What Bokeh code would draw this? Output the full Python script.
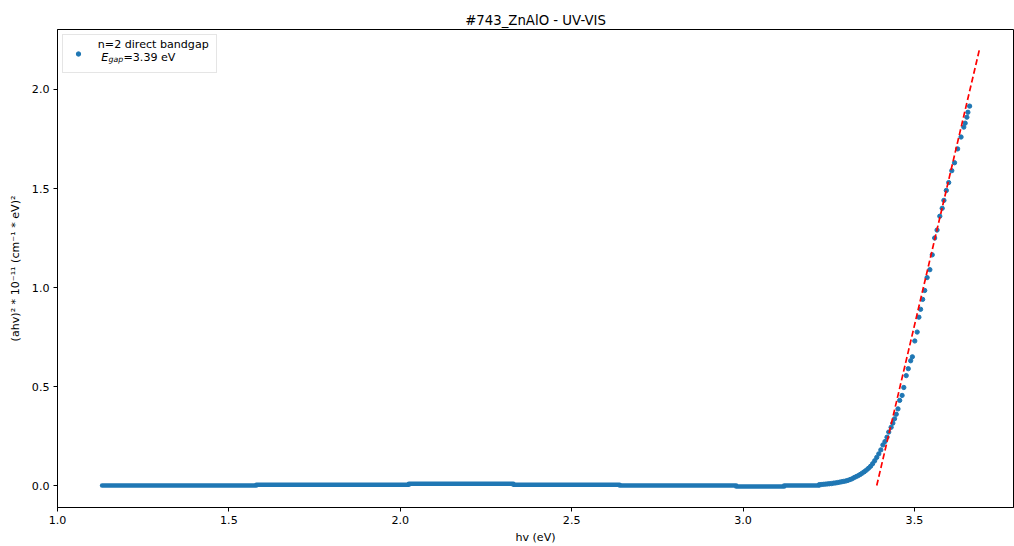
from bokeh.plotting import figure
from bokeh.models import FixedTicker, NumeralTickFormatter, Label, Legend, LegendItem
from bokeh.embed import file_html
from bokeh.resources import INLINE

# Flat part of the spectrum below the absorption edge: (start hv, end hv, level)
plateau_start = [1.130, 1.580, 2.025, 2.330, 2.640, 2.980, 3.120]
plateau_end = [1.580, 2.025, 2.330, 2.640, 2.980, 3.120, 3.222]
plateau_level = [0.000, 0.004, 0.009, 0.004, 0.000, -0.005, 0.000]

# Absorption edge, photon energy (eV) and (ahv)^2 in 1e-11 units
edge_hv = [3.222, 3.228, 3.234, 3.240, 3.246, 3.252, 3.258, 3.264, 3.270, 3.276,
           3.282, 3.288, 3.294, 3.300, 3.306, 3.312, 3.318, 3.324, 3.330, 3.336,
           3.342, 3.348, 3.354, 3.360, 3.366, 3.372, 3.378, 3.384, 3.390, 3.396,
           3.402, 3.408, 3.414, 3.420, 3.425, 3.432, 3.437, 3.442, 3.447, 3.452,
           3.457, 3.464, 3.469, 3.476, 3.482, 3.489, 3.494, 3.501, 3.508, 3.513,
           3.518, 3.524, 3.530, 3.537, 3.545, 3.552, 3.559, 3.566, 3.574, 3.581,
           3.586, 3.593, 3.600, 3.609, 3.617, 3.626, 3.636, 3.644, 3.648, 3.653,
           3.656, 3.661]
edge_val = [0.004, 0.005, 0.006, 0.007, 0.008, 0.009, 0.010, 0.012, 0.013, 0.015,
            0.017, 0.019, 0.021, 0.023, 0.026, 0.030, 0.034, 0.040, 0.045, 0.050,
            0.056, 0.063, 0.070, 0.078, 0.087, 0.097, 0.110, 0.125, 0.142, 0.160,
            0.180, 0.205, 0.222, 0.244, 0.270, 0.294, 0.315, 0.337, 0.360, 0.387,
            0.430, 0.455, 0.495, 0.555, 0.590, 0.630, 0.650, 0.730, 0.775, 0.850,
            0.890, 0.940, 0.985, 1.050, 1.090, 1.165, 1.250, 1.290, 1.360, 1.400,
            1.440, 1.490, 1.530, 1.590, 1.630, 1.700, 1.760, 1.810, 1.830, 1.860,
            1.885, 1.916]

# Linear fit of the edge (Tauc extrapolation)
e_gap = 3.39
fit_slope = 7.35
fit_end = 3.69
fit_x = [e_gap, fit_end]
fit_y = [0.0, fit_slope * (fit_end - e_gap)]

x_ticks = [1.0, 1.5, 2.0, 2.5, 3.0, 3.5]
y_ticks = [0.0, 0.5, 1.0, 1.5, 2.0]

FONT = "DejaVu Sans"
BLUE = "#1f77b4"

p = figure(width=1014, height=546, x_range=(1.0, 3.789), y_range=(-0.111, 2.303),
           output_backend="svg", toolbar_location=None,
           min_border_left=57, min_border_right=1, min_border_top=29, min_border_bottom=39)

p.title.text = "#743_ZnAlO - UV-VIS"
p.title.align = "center"
p.title.text_font = FONT
p.title.text_font_size = "13.3px"
p.title.text_font_style = "normal"
p.title.text_color = "black"
p.title.standoff = 4

p.grid.visible = False
p.outline_line_color = "black"
p.outline_line_width = 1
p.background_fill_color = "white"
p.border_fill_color = "white"

for ax in (p.xaxis[0], p.yaxis[0]):
    ax.axis_line_color = "black"
    ax.major_tick_line_color = "black"
    ax.major_tick_in = 0
    ax.major_tick_out = 4
    ax.minor_tick_line_color = None
    ax.major_label_text_font = FONT
    ax.major_label_text_font_size = "11.1px"
    ax.major_label_text_color = "black"
    ax.axis_label_text_font = FONT
    ax.axis_label_text_font_size = "11.1px"
    ax.axis_label_text_font_style = "normal"
    ax.axis_label_text_color = "black"
    ax.major_label_standoff = 4
    ax.formatter = NumeralTickFormatter(format="0.0")

p.xaxis.ticker = FixedTicker(ticks=x_ticks)
p.yaxis.ticker = FixedTicker(ticks=y_ticks)
p.xaxis.axis_label = "hv (eV)"
p.xaxis.axis_label_standoff = 4
p.yaxis.axis_label = "(ahv)² * 10⁻¹¹ (cm⁻¹ * eV)²"
p.yaxis.axis_label_standoff = 7

# Dense low-energy data form a continuous band of dots
p.segment(x0=plateau_start, x1=plateau_end, y0=plateau_level, y1=plateau_level,
          line_color=BLUE, line_width=4.5, line_cap="round")

pts = p.scatter(x=edge_hv, y=edge_val, size=4.3, fill_color=BLUE, line_color=BLUE)

p.line(x=fit_x, y=fit_y, line_color="red", line_width=1.7, line_dash="6 3")

# Legend box with the marker; its two text lines are set as labels below
legend = Legend(items=[LegendItem(label=" ", renderers=[pts])],
                location="top_left", margin=5, padding=5, glyph_width=20, glyph_height=11,
                label_standoff=10, label_height=27, label_width=113, spacing=0,
                label_text_font=FONT, label_text_font_size="11.1px",
                label_text_color="black",
                border_line_color="#cccccc", border_line_width=1,
                background_fill_color="white", background_fill_alpha=0.0)
p.add_layout(legend)

legend_text = [("n=2 direct bandgap", 40.3, 463.0, "11.1px", "normal"),
               ("E", 43.7, 450.3, "11.1px", "italic"),
               ("gap", 51.0, 447.7, "7.8px", "italic"),
               ("=%.2f eV" % e_gap, 66.0, 450.3, "11.1px", "normal")]
for txt, dx, dy, size, style in legend_text:
    p.add_layout(Label(x=dx, y=dy, x_units="screen", y_units="screen", text=txt,
                       text_font=FONT, text_font_size=size, text_font_style=style,
                       text_color="black", text_baseline="alphabetic", text_align="left"))

open("out.html", "w").write(file_html(p, INLINE))
